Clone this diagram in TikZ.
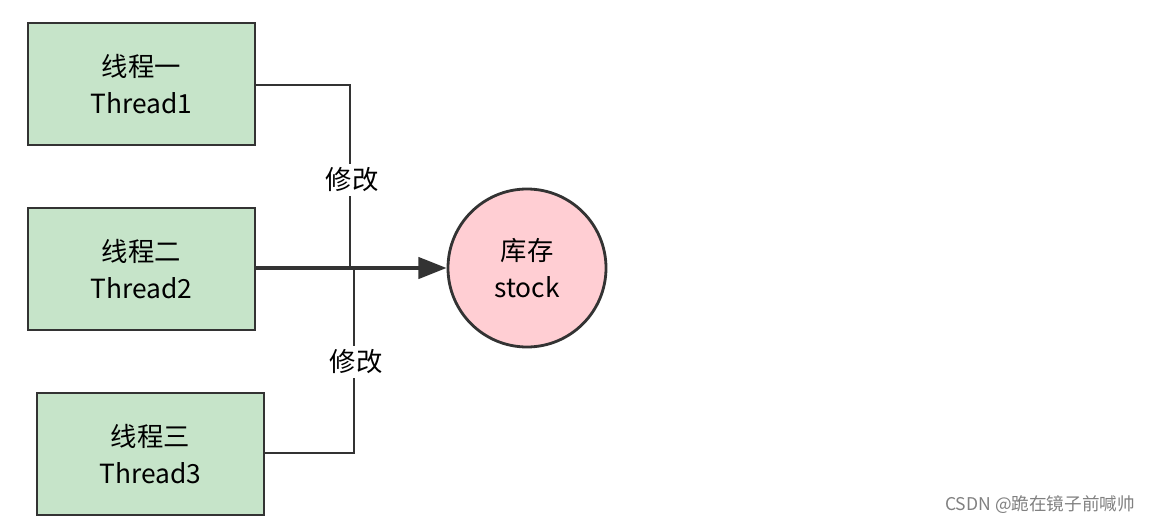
\documentclass[tikz,border=0pt]{standalone}
\usepackage{fontspec}
\setmainfont{Noto Sans CJK SC}
\usetikzlibrary{arrows.meta}
\definecolor{boxgreen}{RGB}{198,228,201}
\definecolor{stockpink}{RGB}{255,206,211}
\definecolor{edgegray}{RGB}{51,51,51}
\begin{document}
\begin{tikzpicture}[x=0.02cm,y=-0.02cm,
    thread/.style={draw=edgegray,line width=1.6pt,fill=boxgreen,minimum width=227*0.02cm,minimum height=122*0.02cm,align=center,font=\fontsize{15}{21}\selectfont},
    link/.style={draw=edgegray,line width=1.4pt},
    tag/.style={fill=white,inner sep=2pt,font=\fontsize{15}{18}\selectfont}]
        \useasboundingbox (0,0) rectangle (1160,524);

        % Threads
        \node[thread] (t1) at (141.5,84) {线程一\\Thread1};
        \node[thread] (t2) at (141.5,269) {线程二\\Thread2};
        \node[thread] (t3) at (150.5,454) {线程三\\Thread3};

        % Stock
        \node[circle,draw=edgegray,line width=1.6pt,fill=stockpink,minimum size=158*0.02cm,align=center,font=\fontsize{15}{21}\selectfont] (stock) at (527,268) {库存\\stock};

        \coordinate (j1) at (350,85);
        \coordinate (j3) at (354,453);

        % Connectors
        \draw[link] (t1.east |- j1) -- (j1) -- (350,268);
        \draw[link] (t3.east |- j3) -- (j3) -- (354,268);
        \draw[link,line width=2.2pt,-{Triangle[length=16pt,width=12pt]}] (t2.east |- stock) -- (stock.west);

        % Labels
        \node[tag] (m1) at (352,180) {修改};
        \node[tag] (m3) at (356,362) {修改};

        \node[text=gray,font=\fontsize{10}{12}\selectfont] (mark) at (1040,505) {CSDN @跪在镜子前喊帅};
    \end{tikzpicture}
\end{document}
